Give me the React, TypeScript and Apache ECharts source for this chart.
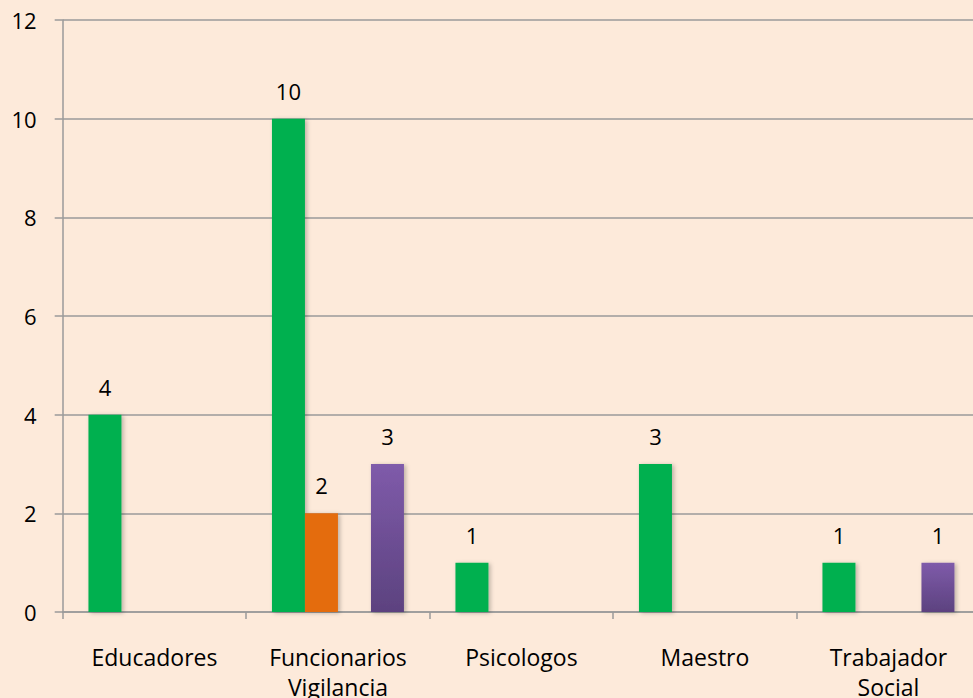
import React, { useEffect, useRef } from "react";
import * as echarts from "echarts";

const categories = ["Educadores", "Funcionarios\nVigilancia", "Psicologos", "Maestro", "Trabajador\nSocial"];
const seriesGreen = [4, 10, 1, 3, 1];
const seriesOrange = [null, 2, null, null, null];
const seriesEmpty = [null, null, null, null, null];
const seriesPurple = [null, 3, null, null, 1];
const yTicks = { min: 0, max: 12, interval: 2 };

const FONT = "'Open Sans', Lato, sans-serif";

export default function App() {
  const ref = useRef<HTMLDivElement>(null);
  useEffect(() => {
    document.body.style.margin = "0";
    const chart = echarts.init(ref.current!, undefined, { renderer: "svg" });
    const label = { show: true, position: "top", color: "#000", fontSize: 22, fontFamily: FONT, distance: 17 };
    const shadow = { shadowBlur: 4, shadowColor: "rgba(0,0,0,0.25)", shadowOffsetX: 2, shadowOffsetY: 1 };
    chart.setOption({
      animation: false,
      backgroundColor: "#FDEADA",
      grid: { left: 62.7, width: 917.5, top: 20, bottom: 86, containLabel: false, outerBoundsMode: "none" },
      xAxis: {
        type: "category",
        data: categories,
        axisLine: { lineStyle: { color: "#9A9A9A", width: 1.5 } },
        axisTick: { show: true, length: 7, lineStyle: { color: "#9A9A9A", width: 1.5 } },
        axisLabel: { color: "#000", fontSize: 23, fontFamily: FONT, margin: 30, lineHeight: 30, interval: 0 },
      },
      yAxis: {
        type: "value",
        min: yTicks.min,
        max: yTicks.max,
        interval: yTicks.interval,
        axisLine: { show: true, lineStyle: { color: "#9A9A9A", width: 1.5 } },
        axisTick: { show: true, length: 8, lineStyle: { color: "#9A9A9A", width: 1.5 } },
        splitLine: { lineStyle: { color: "#9A9A9A", width: 1.5 } },
        axisLabel: { color: "#000", fontSize: 22, fontFamily: FONT, margin: 26 },
      },
      series: [
        { type: "bar", data: seriesGreen, barWidth: 33, barGap: "0%", itemStyle: { color: "#00B050", ...shadow }, label },
        { type: "bar", data: seriesOrange, barWidth: 33, barGap: "0%", itemStyle: { color: "#E46C0A", ...shadow }, label },
        { type: "bar", data: seriesEmpty, barWidth: 33, barGap: "0%", label },
        {
          type: "bar",
          data: seriesPurple,
          barWidth: 33,
          barGap: "0%",
          itemStyle: {
            color: new echarts.graphic.LinearGradient(0, 0, 0, 1, [
              { offset: 0, color: "#7F5BAA" },
              { offset: 1, color: "#5C427F" },
            ]),
            ...shadow,
          },
          label,
        },
      ],
    });
    return () => chart.dispose();
  }, []);
  return <div ref={ref} style={{ width: 973, height: 698 }} />;
}
